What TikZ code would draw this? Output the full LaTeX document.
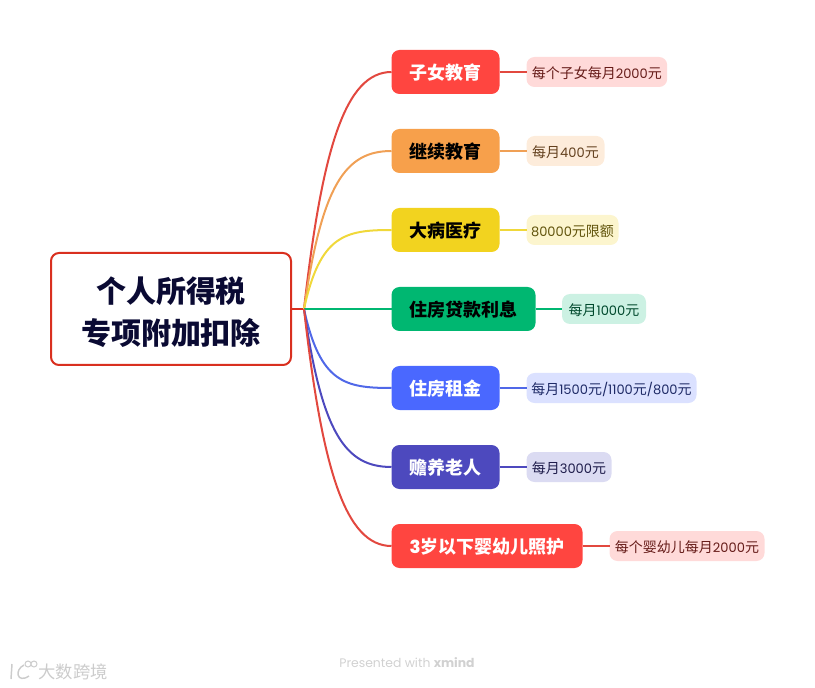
\documentclass[tikz,border=0pt]{standalone}
\usepackage{xcolor}
\usepackage{fontspec}
\setmainfont{Noto Sans CJK SC}
\newfontfamily\cjkbold{Noto Sans CJK SC Black}
\newfontfamily\digits[Scale=.93]{Poppins}
\newcommand{\dg}[1]{{\digits #1}}
\definecolor{redtopic}{HTML}{FF4540}
\definecolor{redline}{HTML}{E2483F}
\definecolor{orangetopic}{HTML}{F7A04B}
\definecolor{orangeline}{HTML}{F0A055}
\definecolor{yellowtopic}{HTML}{F2D31F}
\definecolor{yellowline}{HTML}{F0D83A}
\definecolor{greentopic}{HTML}{00B771}
\definecolor{bluetopic}{HTML}{4A68FF}
\definecolor{blueline}{HTML}{5068E8}
\definecolor{indigotopic}{HTML}{4D49BE}
\definecolor{rootline}{HTML}{D9301F}
\definecolor{roottext}{HTML}{0A0A33}

\begin{document}
\begin{tikzpicture}[x=.75pt, y=-.75pt, line width=1.5pt]
    \tikzstyle{rootbox}=[draw=rootline, fill=white, rounded corners=6pt, line width=1.5pt, outer sep=0pt,
        minimum width=180pt, minimum height=84pt, inner sep=0pt, align=center,
        text=roottext, font=\cjkbold\fontsize{22.5}{31}\selectfont]
    \tikzstyle{topicbox}=[rounded corners=6pt, anchor=west, minimum height=33pt, inner sep=0pt, outer sep=0pt,
        text height=12pt, text depth=.2pt, font=\cjkbold\fontsize{13.5}{16}\selectfont]
    \tikzstyle{notebox}=[rounded corners=6pt, anchor=west, minimum height=22.5pt, inner sep=0pt, outer sep=0pt,
        text height=9.5pt, text depth=0pt, font=\fontsize{10.5}{13}\selectfont]
    \useasboundingbox (0,0) rectangle (815,688);

    \node[rootbox] (root) at (171,309) {\rule{0pt}{24pt}个人所得税\\专项附加扣除};
    \coordinate (hub) at (304,309);

    \node[topicbox, fill=redtopic, text=white, minimum width=81pt] (edu) at (391.5,72) {子女教育};
    \node[topicbox, fill=orangetopic, text=black, minimum width=81pt] (cont) at (391.5,151) {继续教育};
    \node[topicbox, fill=yellowtopic, text=black, minimum width=81pt] (ill) at (391.5,230) {大病医疗};
    \node[topicbox, fill=greentopic, text=black, minimum width=108pt] (loan) at (391.5,309) {住房贷款利息};
    \node[topicbox, fill=bluetopic, text=white, minimum width=81pt] (rent) at (391.5,388) {住房租金};
    \node[topicbox, fill=indigotopic, text=white, minimum width=81pt] (elder) at (391.5,467) {赡养老人};
    \node[topicbox, fill=redtopic, text=white, minimum width=143.25pt] (baby) at (391.5,546) {{\fontspec{Poppins ExtraBold}3}岁以下婴幼儿照护};

    \node[notebox, fill=redtopic!20, text=redtopic!40!black, minimum width=105.5pt] (eduN) at (526.5,72) {每个子女每月\dg{2000}元};
    \node[notebox, fill=orangetopic!20, text=orangetopic!40!black, minimum width=58.5pt] (contN) at (526.5,151) {每月\dg{400}元};
    \node[notebox, fill=yellowtopic!22, text=yellowtopic!40!black, minimum width=69pt] (illN) at (526.5,230) {\dg{80000}元限额};
    \node[notebox, fill=greentopic!20, text=greentopic!40!black, minimum width=63pt] (loanN) at (562,309) {每月\dg{1000}元};
    \node[notebox, fill=bluetopic!20, text=bluetopic!40!black, minimum width=127.5pt] (rentN) at (526.5,388) {每月\dg{1500}元\dg{/1100}元\dg{/800}元};
    \node[notebox, fill=indigotopic!20, text=indigotopic!40!black, minimum width=63.75pt] (elderN) at (526.5,467) {每月\dg{3000}元};
    \node[notebox, fill=redtopic!20, text=redtopic!40!black, minimum width=116.25pt] (babyN) at (609.5,546) {每个婴幼儿每月\dg{2000}元};

    \draw[rootline] (root.east) -- (hub);
    \draw[redline] (hub) .. controls (322,150) and (345,72) .. (edu.west);
    \draw[orangeline] (hub) .. controls (322,185) and (345,151) .. (cont.west);
    \draw[yellowline] (hub) .. controls (320,235) and (345,230) .. (ill.west);
    \draw[greentopic] (hub) -- (loan.west);
    \draw[blueline] (hub) .. controls (320,383) and (345,388) .. (rent.west);
    \draw[indigotopic] (hub) .. controls (322,433) and (345,467) .. (elder.west);
    \draw[redline] (hub) .. controls (322,468) and (345,546) .. (baby.west);

    \draw[redline] (edu.east) -- (eduN.west);
    \draw[orangeline] (cont.east) -- (contN.west);
    \draw[yellowline] (ill.east) -- (illN.west);
    \draw[greentopic] (loan.east) -- (loanN.west);
    \draw[blueline] (rent.east) -- (rentN.west);
    \draw[indigotopic] (elder.east) -- (elderN.west);
    \draw[redline] (baby.east) -- (babyN.west);

    % footer
    \node[text=black!18, font=\digits\fontsize{10}{12}\selectfont] (credit) at (407,663) {Presented with \textbf{xmind}};
    \node[text=black!20, font=\fontsize{13}{15}\selectfont] (mark) at (73,672) {大数跨境};
    \draw[black!20, line width=1.1pt] (12,664) -- (11,679) (24,665) .. controls (14,670) and (17,684) .. (29,676);
    \draw[black!20, line width=.75pt] (28,664) circle (3) (34,664) circle (3);
\end{tikzpicture}
\end{document}
